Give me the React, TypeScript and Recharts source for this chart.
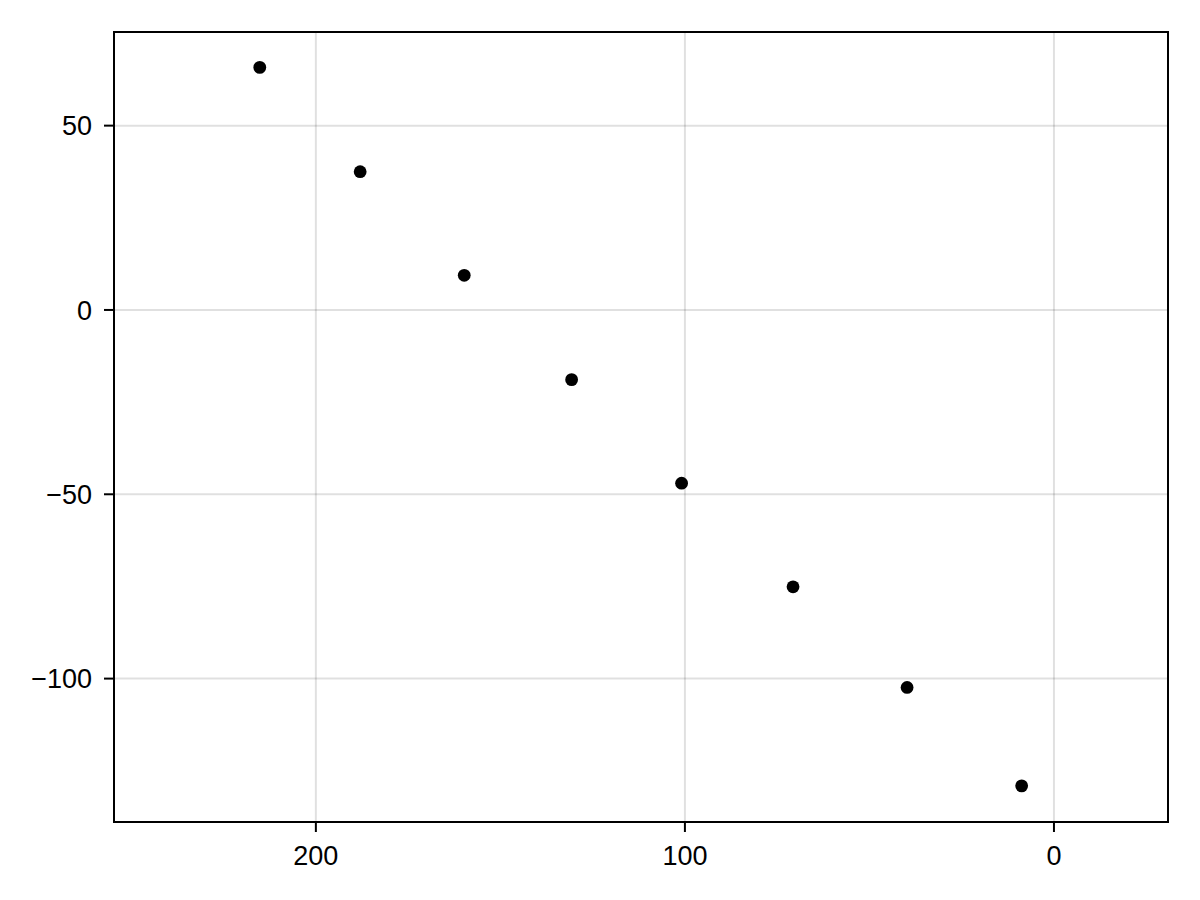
import { ScatterChart, Scatter, XAxis, YAxis, CartesianGrid, ReferenceArea } from "recharts";

const xValues = [215.2, 188.0, 159.8, 130.7, 100.9, 70.7, 39.8, 8.75];
const yValues = [65.8, 37.5, 9.4, -18.9, -47.0, -75.1, -102.4, -129.1];
const xTicks = [0, 100, 200];
const yTicks = [-100, -50, 0, 50];
const xDomain: [number, number] = [-30.9, 254.7];
const yDomain: [number, number] = [-138.9, 75.4];

const data = xValues.map((x, i) => ({ x, y: yValues[i] }));

const fmt = (v: number) => (v < 0 ? `\u2212${Math.abs(v)}` : `${v}`);
const tickStyle = { fill: "#000", fontSize: 27, fontFamily: "'Liberation Sans', Arial, sans-serif" };

export default function App() {
  return (
    <div style={{ position: "absolute", left: 0, top: 0, width: 1200, height: 900, background: "#fff" }}>
      <ScatterChart width={1200} height={900} margin={{ top: 32, right: 32, left: 0, bottom: 0 }}>
        <CartesianGrid stroke="#000" strokeOpacity={0.12} strokeWidth={2} />
        <XAxis
          type="number"
          dataKey="x"
          reversed
          domain={xDomain}
          ticks={xTicks}
          allowDataOverflow
          height={78}
          axisLine={false}
          tickLine={{ stroke: "#000", strokeWidth: 2 }}
          tickSize={10}
          tickMargin={14}
          tick={tickStyle}
          tickFormatter={fmt}
        />
        <YAxis
          type="number"
          dataKey="y"
          domain={yDomain}
          ticks={yTicks}
          allowDataOverflow
          width={114}
          axisLine={false}
          tickLine={{ stroke: "#000", strokeWidth: 2 }}
          tickSize={10}
          tickMargin={12}
          tick={tickStyle}
          tickFormatter={fmt}
        />
        <ReferenceArea
          x1={xDomain[0]}
          x2={xDomain[1]}
          y1={yDomain[0]}
          y2={yDomain[1]}
          fill="none"
          stroke="#000"
          strokeWidth={2}
          ifOverflow="visible"
        />
        <Scatter
          data={data}
          fill="#000"
          isAnimationActive={false}
          shape={(p: any) => <circle cx={p.cx} cy={p.cy} r={6.4} fill="#000" />}
        />
      </ScatterChart>
    </div>
  );
}
